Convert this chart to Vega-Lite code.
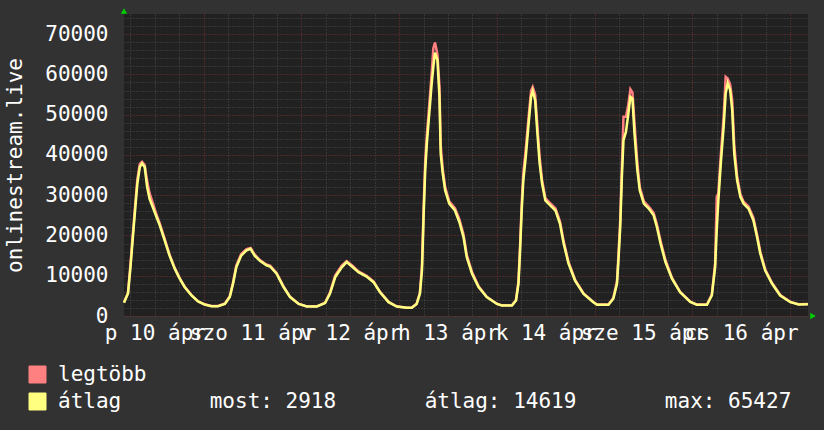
{
  "$schema": "https://vega.github.io/schema/vega-lite/v6.json",
  "width": 684,
  "height": 302,
  "autosize": "none",
  "padding": {"left": 124, "top": 14, "right": 16, "bottom": 114},
  "background": "#323232",
  "config": {"view": {"fill": "#212121", "stroke": null}, "font": "DejaVu Sans Mono"},
  "data": {"values": [
    {"t": "2020-04-10T04:25:00", "atlag": 3300, "legtobb": 3400},
    {"t": "2020-04-10T05:24:00", "atlag": 5600, "legtobb": 5800},
    {"t": "2020-04-10T06:00:00", "atlag": 12000, "legtobb": 12800},
    {"t": "2020-04-10T06:36:00", "atlag": 19600, "legtobb": 20500},
    {"t": "2020-04-10T07:12:00", "atlag": 27000, "legtobb": 28000},
    {"t": "2020-04-10T07:42:00", "atlag": 32900, "legtobb": 34000},
    {"t": "2020-04-10T08:18:00", "atlag": 37000, "legtobb": 37800},
    {"t": "2020-04-10T08:51:00", "atlag": 37900, "legtobb": 38300},
    {"t": "2020-04-10T09:30:00", "atlag": 37000, "legtobb": 37500},
    {"t": "2020-04-10T10:06:00", "atlag": 32000, "legtobb": 33500},
    {"t": "2020-04-10T10:42:00", "atlag": 29100, "legtobb": 30500},
    {"t": "2020-04-10T11:30:00", "atlag": 27000, "legtobb": 28000},
    {"t": "2020-04-10T12:24:00", "atlag": 24600, "legtobb": 25200},
    {"t": "2020-04-10T13:12:00", "atlag": 22500, "legtobb": 23000},
    {"t": "2020-04-10T14:24:00", "atlag": 18800, "legtobb": 19200},
    {"t": "2020-04-10T15:36:00", "atlag": 15000, "legtobb": 15300},
    {"t": "2020-04-10T16:54:00", "atlag": 11700, "legtobb": 11900},
    {"t": "2020-04-10T18:06:00", "atlag": 9250, "legtobb": 9400},
    {"t": "2020-04-10T19:18:00", "atlag": 7200, "legtobb": 7300},
    {"t": "2020-04-10T21:00:00", "atlag": 5100, "legtobb": 5200},
    {"t": "2020-04-10T22:36:00", "atlag": 3600, "legtobb": 3650},
    {"t": "2020-04-11T00:12:00", "atlag": 2860, "legtobb": 2900},
    {"t": "2020-04-11T01:54:00", "atlag": 2450, "legtobb": 2500},
    {"t": "2020-04-11T03:30:00", "atlag": 2450, "legtobb": 2500},
    {"t": "2020-04-11T05:12:00", "atlag": 3000, "legtobb": 3100},
    {"t": "2020-04-11T06:24:00", "atlag": 4700, "legtobb": 4900},
    {"t": "2020-04-11T07:12:00", "atlag": 8000, "legtobb": 8400},
    {"t": "2020-04-11T08:00:00", "atlag": 12100, "legtobb": 12600},
    {"t": "2020-04-11T09:12:00", "atlag": 15000, "legtobb": 15400},
    {"t": "2020-04-11T10:30:00", "atlag": 16300, "legtobb": 16600},
    {"t": "2020-04-11T11:30:00", "atlag": 16700, "legtobb": 16900},
    {"t": "2020-04-11T12:30:00", "atlag": 15000, "legtobb": 15300},
    {"t": "2020-04-11T13:48:00", "atlag": 13700, "legtobb": 13900},
    {"t": "2020-04-11T15:24:00", "atlag": 12600, "legtobb": 12800},
    {"t": "2020-04-11T16:18:00", "atlag": 12300, "legtobb": 12500},
    {"t": "2020-04-11T17:54:00", "atlag": 10500, "legtobb": 10700},
    {"t": "2020-04-11T19:36:00", "atlag": 7200, "legtobb": 7350},
    {"t": "2020-04-11T21:12:00", "atlag": 4700, "legtobb": 4800},
    {"t": "2020-04-11T23:18:00", "atlag": 3000, "legtobb": 3050},
    {"t": "2020-04-12T01:18:00", "atlag": 2360, "legtobb": 2400},
    {"t": "2020-04-12T03:48:00", "atlag": 2360, "legtobb": 2400},
    {"t": "2020-04-12T05:48:00", "atlag": 3200, "legtobb": 3300},
    {"t": "2020-04-12T07:00:00", "atlag": 5500, "legtobb": 5800},
    {"t": "2020-04-12T08:18:00", "atlag": 9650, "legtobb": 10100},
    {"t": "2020-04-12T09:54:00", "atlag": 12100, "legtobb": 12500},
    {"t": "2020-04-12T11:06:00", "atlag": 13400, "legtobb": 13600},
    {"t": "2020-04-12T12:24:00", "atlag": 12300, "legtobb": 12600},
    {"t": "2020-04-12T14:00:00", "atlag": 10900, "legtobb": 11100},
    {"t": "2020-04-12T16:00:00", "atlag": 9800, "legtobb": 10000},
    {"t": "2020-04-12T17:42:00", "atlag": 8400, "legtobb": 8600},
    {"t": "2020-04-12T19:18:00", "atlag": 5900, "legtobb": 6000},
    {"t": "2020-04-12T21:24:00", "atlag": 3430, "legtobb": 3500},
    {"t": "2020-04-12T23:24:00", "atlag": 2360, "legtobb": 2400},
    {"t": "2020-04-13T01:54:00", "atlag": 2040, "legtobb": 2080},
    {"t": "2020-04-13T03:06:00", "atlag": 2040, "legtobb": 2080},
    {"t": "2020-04-13T04:18:00", "atlag": 3000, "legtobb": 3100},
    {"t": "2020-04-13T05:06:00", "atlag": 5500, "legtobb": 5900},
    {"t": "2020-04-13T05:36:00", "atlag": 11300, "legtobb": 12500},
    {"t": "2020-04-13T06:00:00", "atlag": 24600, "legtobb": 26500},
    {"t": "2020-04-13T06:24:00", "atlag": 36200, "legtobb": 38500},
    {"t": "2020-04-13T06:48:00", "atlag": 42800, "legtobb": 45000},
    {"t": "2020-04-13T07:24:00", "atlag": 50300, "legtobb": 52500},
    {"t": "2020-04-13T08:00:00", "atlag": 57800, "legtobb": 60500},
    {"t": "2020-04-13T08:24:00", "atlag": 61900, "legtobb": 66500},
    {"t": "2020-04-13T08:48:00", "atlag": 65400, "legtobb": 67900},
    {"t": "2020-04-13T09:24:00", "atlag": 63600, "legtobb": 65000},
    {"t": "2020-04-13T09:54:00", "atlag": 54400, "legtobb": 57000},
    {"t": "2020-04-13T10:12:00", "atlag": 40300, "legtobb": 42500},
    {"t": "2020-04-13T10:42:00", "atlag": 35400, "legtobb": 36500},
    {"t": "2020-04-13T11:18:00", "atlag": 31200, "legtobb": 32000},
    {"t": "2020-04-13T12:18:00", "atlag": 27900, "legtobb": 28500},
    {"t": "2020-04-13T13:42:00", "atlag": 26200, "legtobb": 26800},
    {"t": "2020-04-13T14:48:00", "atlag": 23300, "legtobb": 24000},
    {"t": "2020-04-13T15:48:00", "atlag": 19600, "legtobb": 20300},
    {"t": "2020-04-13T16:36:00", "atlag": 14600, "legtobb": 15200},
    {"t": "2020-04-13T17:54:00", "atlag": 10500, "legtobb": 10900},
    {"t": "2020-04-13T19:30:00", "atlag": 7200, "legtobb": 7400},
    {"t": "2020-04-13T21:30:00", "atlag": 4700, "legtobb": 4800},
    {"t": "2020-04-14T00:00:00", "atlag": 3000, "legtobb": 3050},
    {"t": "2020-04-14T01:12:00", "atlag": 2600, "legtobb": 2650},
    {"t": "2020-04-14T03:42:00", "atlag": 2600, "legtobb": 2650},
    {"t": "2020-04-14T04:42:00", "atlag": 3850, "legtobb": 4000},
    {"t": "2020-04-14T05:18:00", "atlag": 8000, "legtobb": 8600},
    {"t": "2020-04-14T05:42:00", "atlag": 16300, "legtobb": 17500},
    {"t": "2020-04-14T06:06:00", "atlag": 26200, "legtobb": 28000},
    {"t": "2020-04-14T06:30:00", "atlag": 33700, "legtobb": 35500},
    {"t": "2020-04-14T07:06:00", "atlag": 39500, "legtobb": 41500},
    {"t": "2020-04-14T07:48:00", "atlag": 47800, "legtobb": 49500},
    {"t": "2020-04-14T08:24:00", "atlag": 54400, "legtobb": 56000},
    {"t": "2020-04-14T08:48:00", "atlag": 55900, "legtobb": 56900},
    {"t": "2020-04-14T09:24:00", "atlag": 53600, "legtobb": 55000},
    {"t": "2020-04-14T09:54:00", "atlag": 46100, "legtobb": 48000},
    {"t": "2020-04-14T10:30:00", "atlag": 37900, "legtobb": 39500},
    {"t": "2020-04-14T11:06:00", "atlag": 32900, "legtobb": 33800},
    {"t": "2020-04-14T11:54:00", "atlag": 28700, "legtobb": 29300},
    {"t": "2020-04-14T13:06:00", "atlag": 27500, "legtobb": 28000},
    {"t": "2020-04-14T14:24:00", "atlag": 26200, "legtobb": 26700},
    {"t": "2020-04-14T15:30:00", "atlag": 22900, "legtobb": 23500},
    {"t": "2020-04-14T16:24:00", "atlag": 18000, "legtobb": 18600},
    {"t": "2020-04-14T17:36:00", "atlag": 13000, "legtobb": 13400},
    {"t": "2020-04-14T19:12:00", "atlag": 8800, "legtobb": 9000},
    {"t": "2020-04-14T21:18:00", "atlag": 5500, "legtobb": 5600},
    {"t": "2020-04-14T23:42:00", "atlag": 3430, "legtobb": 3500},
    {"t": "2020-04-15T00:36:00", "atlag": 2800, "legtobb": 2850},
    {"t": "2020-04-15T03:24:00", "atlag": 2800, "legtobb": 2850},
    {"t": "2020-04-15T04:36:00", "atlag": 4300, "legtobb": 4500},
    {"t": "2020-04-15T05:30:00", "atlag": 8000, "legtobb": 8600},
    {"t": "2020-04-15T05:54:00", "atlag": 14600, "legtobb": 15800},
    {"t": "2020-04-15T06:18:00", "atlag": 22100, "legtobb": 24000},
    {"t": "2020-04-15T06:42:00", "atlag": 34500, "legtobb": 37000},
    {"t": "2020-04-15T07:06:00", "atlag": 43700, "legtobb": 49500},
    {"t": "2020-04-15T07:42:00", "atlag": 45700, "legtobb": 49500},
    {"t": "2020-04-15T08:12:00", "atlag": 49500, "legtobb": 52000},
    {"t": "2020-04-15T08:48:00", "atlag": 54400, "legtobb": 56300},
    {"t": "2020-04-15T09:18:00", "atlag": 54000, "legtobb": 55500},
    {"t": "2020-04-15T09:48:00", "atlag": 45300, "legtobb": 48000},
    {"t": "2020-04-15T10:30:00", "atlag": 36200, "legtobb": 38000},
    {"t": "2020-04-15T11:06:00", "atlag": 31200, "legtobb": 32000},
    {"t": "2020-04-15T12:06:00", "atlag": 27900, "legtobb": 28500},
    {"t": "2020-04-15T13:18:00", "atlag": 26700, "legtobb": 27200},
    {"t": "2020-04-15T14:30:00", "atlag": 25000, "legtobb": 25600},
    {"t": "2020-04-15T15:18:00", "atlag": 22100, "legtobb": 22800},
    {"t": "2020-04-15T16:12:00", "atlag": 18000, "legtobb": 18700},
    {"t": "2020-04-15T17:24:00", "atlag": 13400, "legtobb": 13900},
    {"t": "2020-04-15T19:00:00", "atlag": 9250, "legtobb": 9500},
    {"t": "2020-04-15T21:00:00", "atlag": 5900, "legtobb": 6000},
    {"t": "2020-04-15T23:30:00", "atlag": 3500, "legtobb": 3550},
    {"t": "2020-04-16T01:06:00", "atlag": 2800, "legtobb": 2850},
    {"t": "2020-04-16T03:36:00", "atlag": 2800, "legtobb": 2850},
    {"t": "2020-04-16T04:48:00", "atlag": 5100, "legtobb": 5400},
    {"t": "2020-04-16T05:36:00", "atlag": 12100, "legtobb": 13000},
    {"t": "2020-04-16T06:00:00", "atlag": 21300, "legtobb": 29600},
    {"t": "2020-04-16T06:24:00", "atlag": 28700, "legtobb": 30500},
    {"t": "2020-04-16T07:00:00", "atlag": 37900, "legtobb": 40000},
    {"t": "2020-04-16T07:42:00", "atlag": 47000, "legtobb": 49500},
    {"t": "2020-04-16T08:12:00", "atlag": 55300, "legtobb": 59400},
    {"t": "2020-04-16T08:42:00", "atlag": 57800, "legtobb": 59000},
    {"t": "2020-04-16T09:18:00", "atlag": 56100, "legtobb": 57500},
    {"t": "2020-04-16T09:48:00", "atlag": 51100, "legtobb": 53500},
    {"t": "2020-04-16T10:18:00", "atlag": 40300, "legtobb": 42500},
    {"t": "2020-04-16T11:00:00", "atlag": 33700, "legtobb": 34800},
    {"t": "2020-04-16T11:48:00", "atlag": 29600, "legtobb": 30300},
    {"t": "2020-04-16T12:36:00", "atlag": 27900, "legtobb": 28400},
    {"t": "2020-04-16T13:48:00", "atlag": 26700, "legtobb": 27200},
    {"t": "2020-04-16T15:00:00", "atlag": 23800, "legtobb": 24400},
    {"t": "2020-04-16T15:54:00", "atlag": 19600, "legtobb": 20200},
    {"t": "2020-04-16T16:42:00", "atlag": 15500, "legtobb": 16000},
    {"t": "2020-04-16T17:54:00", "atlag": 11300, "legtobb": 11600},
    {"t": "2020-04-16T19:36:00", "atlag": 8000, "legtobb": 8200},
    {"t": "2020-04-16T21:36:00", "atlag": 5100, "legtobb": 5200},
    {"t": "2020-04-17T00:06:00", "atlag": 3430, "legtobb": 3500},
    {"t": "2020-04-17T02:06:00", "atlag": 2860, "legtobb": 2900},
    {"t": "2020-04-17T04:24:00", "atlag": 2918, "legtobb": 2960}
  ]},
  "encoding": {
    "x": {
      "field": "t", "type": "temporal",
      "scale": {"domain": [{"year": 2020, "month": 4, "date": 10, "hours": 4, "minutes": 25}, {"year": 2020, "month": 4, "date": 17, "hours": 4, "minutes": 25}]},
      "axis": {
        "title": null,
        "values": [
          {"year": 2020, "month": 4, "date": 10, "hours": 6}, {"year": 2020, "month": 4, "date": 10, "hours": 12}, {"year": 2020, "month": 4, "date": 10, "hours": 18},
          {"year": 2020, "month": 4, "date": 11, "hours": 0}, {"year": 2020, "month": 4, "date": 11, "hours": 6}, {"year": 2020, "month": 4, "date": 11, "hours": 12}, {"year": 2020, "month": 4, "date": 11, "hours": 18},
          {"year": 2020, "month": 4, "date": 12, "hours": 0}, {"year": 2020, "month": 4, "date": 12, "hours": 6}, {"year": 2020, "month": 4, "date": 12, "hours": 12}, {"year": 2020, "month": 4, "date": 12, "hours": 18},
          {"year": 2020, "month": 4, "date": 13, "hours": 0}, {"year": 2020, "month": 4, "date": 13, "hours": 6}, {"year": 2020, "month": 4, "date": 13, "hours": 12}, {"year": 2020, "month": 4, "date": 13, "hours": 18},
          {"year": 2020, "month": 4, "date": 14, "hours": 0}, {"year": 2020, "month": 4, "date": 14, "hours": 6}, {"year": 2020, "month": 4, "date": 14, "hours": 12}, {"year": 2020, "month": 4, "date": 14, "hours": 18},
          {"year": 2020, "month": 4, "date": 15, "hours": 0}, {"year": 2020, "month": 4, "date": 15, "hours": 6}, {"year": 2020, "month": 4, "date": 15, "hours": 12}, {"year": 2020, "month": 4, "date": 15, "hours": 18},
          {"year": 2020, "month": 4, "date": 16, "hours": 0}, {"year": 2020, "month": 4, "date": 16, "hours": 6}, {"year": 2020, "month": 4, "date": 16, "hours": 12}, {"year": 2020, "month": 4, "date": 16, "hours": 18},
          {"year": 2020, "month": 4, "date": 17, "hours": 0}
        ],
        "labelExpr": "hours(datum.value) != 12 ? '' : (day(datum.value) == 5 ? 'p' : day(datum.value) == 6 ? 'szo' : day(datum.value) == 0 ? 'v' : day(datum.value) == 1 ? 'h' : day(datum.value) == 2 ? 'k' : day(datum.value) == 3 ? 'sze' : 'cs') + ' ' + date(datum.value) + ' ápr'",
        "labelOverlap": false, "labelBound": false, "labelFlush": false,
        "grid": true,
        "gridColor": {"condition": {"test": "hours(datum.value) == 0", "value": "#7a3232"}, "value": "#4c4c4c"},
        "gridDash": [1, 2],
        "ticks": false, "domain": false,
        "labelFont": "DejaVu Sans Mono", "labelFontSize": 21, "labelColor": "#ffffff", "labelPadding": 6
      }
    },
    "y": {
      "field": "v", "type": "quantitative",
      "scale": {"domain": [0, 75000], "nice": false},
      "axis": {
        "title": "onlinestream.live",
        "values": [0,2000,4000,6000,8000,10000,12000,14000,16000,18000,20000,22000,24000,26000,28000,30000,32000,34000,36000,38000,40000,42000,44000,46000,48000,50000,52000,54000,56000,58000,60000,62000,64000,66000,68000,70000,72000,74000],
        "format": "d",
        "labelExpr": "datum.value % 10000 == 0 ? datum.label : ''",
        "labelOverlap": false,
        "grid": true,
        "gridColor": {"condition": {"test": "datum.value % 10000 == 0", "value": "#7a3232"}, "value": "#4c4c4c"},
        "gridDash": [1, 2],
        "ticks": false, "domain": false,
        "labelFont": "DejaVu Sans Mono", "labelFontSize": 21, "labelColor": "#ffffff", "labelPadding": 16,
        "titleFont": "DejaVu Sans Mono", "titleFontSize": 21, "titleFontWeight": "normal", "titleColor": "#ffffff", "titlePadding": 19
      }
    }
  },
  "layer": [
    {
      "transform": [{"fold": ["legtobb", "atlag"], "as": ["sorozat", "v"]}, {"filter": "datum.sorozat == 'legtobb'"}],
      "mark": {"type": "line", "strokeWidth": 2.5},
      "encoding": {
        "color": {
          "field": "sorozat", "type": "nominal",
          "scale": {"domain": ["legtobb", "atlag"], "range": ["#ff8080", "#ffff80"]},
          "legend": {
            "orient": "none", "legendX": -97, "legendY": 350, "direction": "vertical", "title": null,
            "symbolType": "square", "symbolSize": 289, "symbolStrokeWidth": 1, "symbolStrokeColor": "#000000",
            "labelFont": "DejaVu Sans Mono", "labelFontSize": 21, "labelColor": "#ffffff", "labelOffset": 10, "labelLimit": 2000,
            "rowPadding": 5,
            "labelExpr": "datum.label == 'atlag' ? 'átlag\u00a0\u00a0\u00a0\u00a0\u00a0\u00a0\u00a0most:\u00a02918\u00a0\u00a0\u00a0\u00a0\u00a0\u00a0\u00a0átlag:\u00a014619\u00a0\u00a0\u00a0\u00a0\u00a0\u00a0\u00a0max:\u00a065427' : 'legtöbb'",
            "encode": {"symbols": {"update": {"fill": {"scale": "color", "field": "value"}, "stroke": {"value": "#000000"}, "fillOpacity": {"value": 1}}}}
          }
        }
      }
    },
    {
      "transform": [{"fold": ["legtobb", "atlag"], "as": ["sorozat", "v"]}, {"filter": "datum.sorozat == 'atlag'"}],
      "mark": {"type": "line", "strokeWidth": 2.5},
      "encoding": {"color": {"field": "sorozat", "type": "nominal"}}
    },
    {
      "data": {"values": [{"t": "2020-04-10T04:25:00", "v": 75000}]},
      "mark": {"type": "point", "shape": "triangle-up", "filled": true, "color": "#00d000", "size": 40, "opacity": 1, "yOffset": -3}
    },
    {
      "data": {"values": [{"t": "2020-04-17T04:25:00", "v": 0}]},
      "mark": {"type": "point", "shape": "triangle-right", "filled": true, "color": "#00d000", "size": 40, "opacity": 1, "xOffset": 5}
    }
  ]
}
